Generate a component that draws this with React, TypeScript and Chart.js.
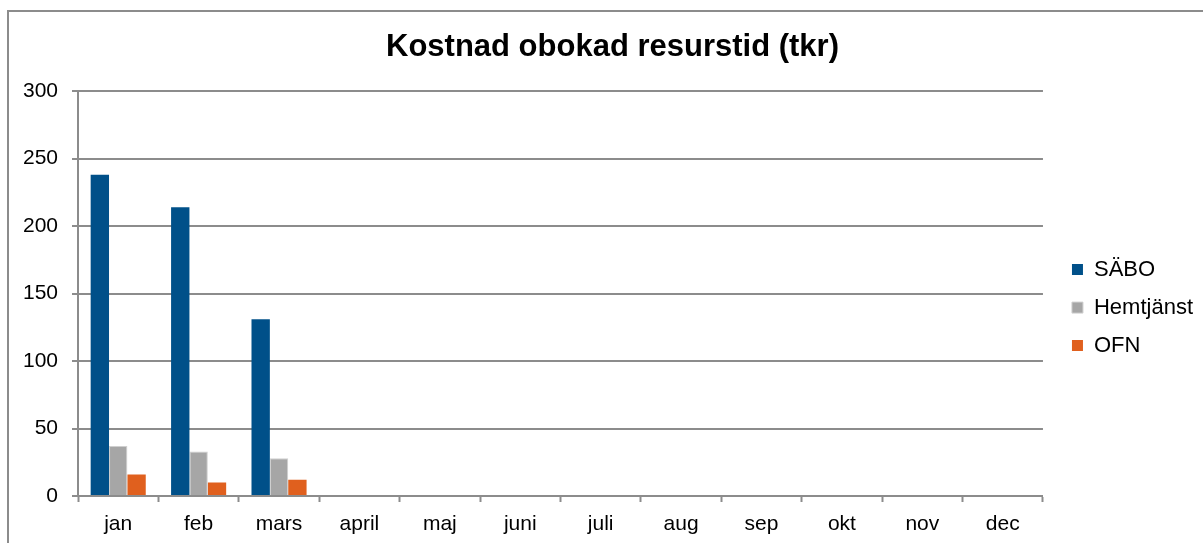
import React, { useEffect, useRef } from "react";
import { Chart, registerables } from "chart.js";

Chart.register(...registerables);

const categories = ["jan", "feb", "mars", "april", "maj", "juni", "juli", "aug", "sep", "okt", "nov", "dec"];
const saboValues = [238, 214, 131, null, null, null, null, null, null, null, null, null];
const hemtjanstValues = [37, 33, 28, null, null, null, null, null, null, null, null, null];
const ofnValues = [16, 10, 12, null, null, null, null, null, null, null, null, null];
const seriesNames = ["SÄBO", "Hemtjänst", "OFN"];
const titleText = "Kostnad obokad resurstid (tkr)";

const FONT = "'Liberation Sans', Arial, sans-serif";
const AXIS_GRAY = "#8c8c8c";

export default function App() {
  const canvasRef = useRef<HTMLCanvasElement | null>(null);

  useEffect(() => {
    document.body.style.margin = "0";
    const canvas = canvasRef.current;
    if (!canvas) return;
    const chart = new Chart(canvas, {
      type: "bar",
      data: {
        labels: categories,
        datasets: [
          {
            label: seriesNames[0],
            data: saboValues,
            backgroundColor: "#005089",
            borderWidth: 0,
          },
          {
            label: seriesNames[1],
            data: hemtjanstValues,
            backgroundColor: "#a6a6a6",
            borderColor: "#cfcfcf",
            borderWidth: 1,
          },
          {
            label: seriesNames[2],
            data: ofnValues,
            backgroundColor: "#e0601e",
            borderWidth: 0,
          },
        ],
      },
      options: {
        animation: false,
        responsive: false,
        maintainAspectRatio: false,
        layout: { padding: { left: 22, right: 0, top: 0, bottom: 0 } },
        datasets: {
          bar: { barPercentage: 1, categoryPercentage: 0.685 },
        },
        plugins: {
          tooltip: { enabled: false },
          title: {
            display: true,
            text: titleText,
            color: "#000000",
            font: { family: FONT, size: 31, weight: "bold" },
            padding: { top: 29, bottom: 25 },
          },
          legend: {
            display: true,
            position: "right",
            fullSize: false,
            align: "center",
            title: { display: true, text: " ", font: { family: FONT, size: 10 }, padding: 8 },
            labels: {
              color: "#000000",
              font: { family: FONT, size: 22 },
              boxWidth: 11,
              boxHeight: 11,
              padding: 16,
            },
          },
        },
        scales: {
          x: {
            grid: {
              display: true,
              offset: true,
              drawOnChartArea: false,
              drawTicks: true,
              tickLength: 6,
              tickColor: AXIS_GRAY,
              tickWidth: 2,
              color: AXIS_GRAY,
            },
            border: { display: true, color: AXIS_GRAY, width: 2 },
            ticks: {
              color: "#000000",
              font: { family: FONT, size: 21 },
              padding: 10,
              maxRotation: 0,
              autoSkip: false,
            },
            afterFit: (s: any) => {
              s.height = 47;
            },
          },
          y: {
            min: 0,
            max: 300,
            ticks: {
              stepSize: 50,
              color: "#000000",
              font: { family: FONT, size: 21 },
              padding: 14,
            },
            grid: {
              color: AXIS_GRAY,
              lineWidth: 2,
              drawTicks: true,
              tickLength: 6,
              tickColor: AXIS_GRAY,
            },
            border: { display: true, color: AXIS_GRAY, width: 2 },
            afterFit: (s: any) => {
              s.width = 56;
            },
          },
          y2: {
            position: "right",
            display: true,
            grid: { display: false, drawTicks: false },
            ticks: { display: false },
            border: { display: false },
            afterFit: (s: any) => {
              s.width = 13;
            },
          },
        },
      },
    });
    return () => chart.destroy();
  }, []);

  return (
    <div style={{ position: "relative", width: 1203, height: 543, overflow: "hidden", background: "#ffffff" }}>
      <canvas ref={canvasRef} width={1203} height={543} style={{ position: "absolute", left: 0, top: 0 }} />
      <div
        style={{
          position: "absolute",
          left: 7,
          top: 10,
          width: 1400,
          height: 800,
          borderLeft: "2px solid #8c8c8c",
          borderTop: "2px solid #8c8c8c",
          pointerEvents: "none",
        }}
      />
    </div>
  );
}
